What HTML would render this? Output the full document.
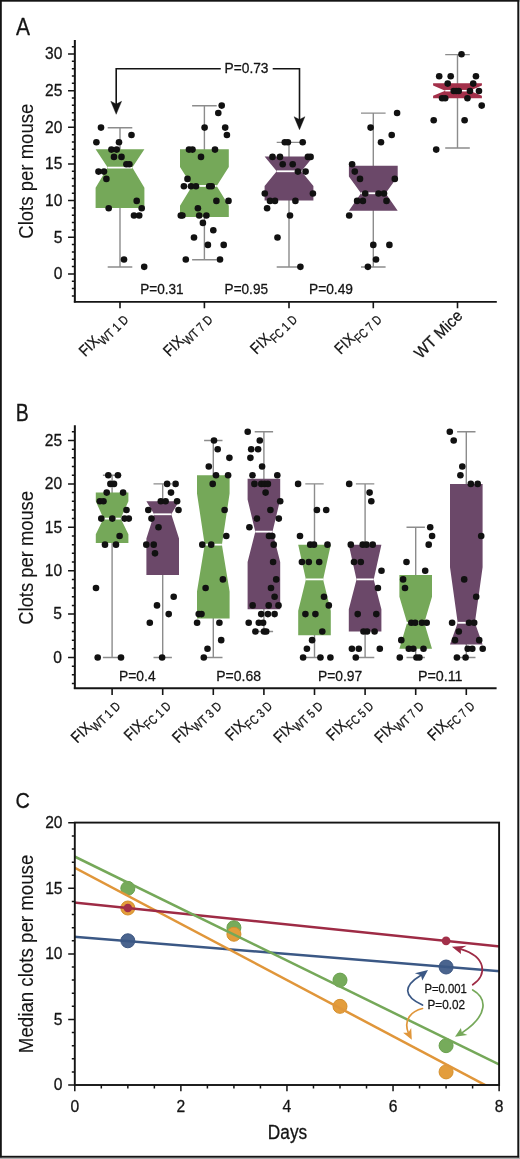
<!DOCTYPE html>
<html lang="en">
<head>
<meta charset="utf-8">
<title>Figure</title>
<style>html,body{margin:0;padding:0;background:#fff}svg{display:block}text{stroke:#141414;stroke-width:0.28px;stroke-linejoin:round}text[stroke-width]{stroke-width:0.12px}</style>
</head>
<body>
<svg width="520" height="1159" viewBox="0 0 520 1159" font-family="'Liberation Sans', Arial, sans-serif" fill="#141414" stroke="#141414" stroke-width="0">
<rect x="0" y="0" width="520" height="1159" fill="#fff"/>
<text x="16" y="34.6" font-size="23.5" text-anchor="start" textLength="14" lengthAdjust="spacingAndGlyphs">A</text>
<text x="15.8" y="420.6" font-size="24.5" text-anchor="start" textLength="13" lengthAdjust="spacingAndGlyphs">B</text>
<text x="15.5" y="808" font-size="22.4" text-anchor="start" textLength="14.4" lengthAdjust="spacingAndGlyphs">C</text>
<g stroke="#141414" stroke-width="2" fill="none">
<path d="M74.85 39.9V302.6"/>
</g>
<g stroke="#141414" stroke-width="1.5" fill="none">
<path d="M68.05 273.9H74.85M68.05 237.25H74.85M68.05 200.6H74.85M68.05 163.95H74.85M68.05 127.3H74.85M68.05 90.65H74.85M68.05 54H74.85M71.85 295.89H74.85M71.85 288.56H74.85M71.85 281.23H74.85M71.85 266.57H74.85M71.85 259.24H74.85M71.85 251.91H74.85M71.85 244.58H74.85M71.85 229.92H74.85M71.85 222.59H74.85M71.85 215.26H74.85M71.85 207.93H74.85M71.85 193.27H74.85M71.85 185.94H74.85M71.85 178.61H74.85M71.85 171.28H74.85M71.85 156.62H74.85M71.85 149.29H74.85M71.85 141.96H74.85M71.85 134.63H74.85M71.85 119.97H74.85M71.85 112.64H74.85M71.85 105.31H74.85M71.85 97.98H74.85M71.85 83.32H74.85M71.85 75.99H74.85M71.85 68.66H74.85M71.85 61.33H74.85M71.85 46.67H74.85"/>
</g>
<text x="62.4" y="279.15" font-size="16" text-anchor="end" textLength="8.7" lengthAdjust="spacingAndGlyphs">0</text>
<text x="62.4" y="242.5" font-size="16" text-anchor="end" textLength="8.7" lengthAdjust="spacingAndGlyphs">5</text>
<text x="62.4" y="205.85" font-size="16" text-anchor="end" textLength="17.3" lengthAdjust="spacingAndGlyphs">10</text>
<text x="62.4" y="169.2" font-size="16" text-anchor="end" textLength="17.3" lengthAdjust="spacingAndGlyphs">15</text>
<text x="62.4" y="132.55" font-size="16" text-anchor="end" textLength="17.3" lengthAdjust="spacingAndGlyphs">20</text>
<text x="62.4" y="95.9" font-size="16" text-anchor="end" textLength="17.3" lengthAdjust="spacingAndGlyphs">25</text>
<text x="62.4" y="59.25" font-size="16" text-anchor="end" textLength="17.3" lengthAdjust="spacingAndGlyphs">30</text>
<path d="M73.85 301.9H496.8" stroke="#141414" stroke-width="1.9" fill="none"/>
<path d="M120 301.9V308.3M204.4 301.9V308.3M289 301.9V308.3M373.3 301.9V308.3M457.5 301.9V308.3" stroke="#141414" stroke-width="1.6" fill="none"/>
<text transform="translate(32.9 171.2) rotate(-90)" text-anchor="middle" font-size="19.6" stroke-width="0.12" textLength="135" lengthAdjust="spacingAndGlyphs">Clots per mouse</text>
<g stroke="#8c8c8c" stroke-width="1.4" fill="none">
<path d="M120 127.75V267.02M107.7 127.75H132.3M107.7 267.02H132.3"/>
</g>
<polygon fill="#75a859" points="95.6,149.29 144.4,149.29 144.4,149.29 132.3,167.61 144.4,187.77 144.4,207.93 95.6,207.93 95.6,187.77 107.7,167.61 95.6,149.29"/>
<line x1="107.7" y1="167.61" x2="132.3" y2="167.61" stroke="#fff" stroke-width="1.8"/>
<g stroke="#8c8c8c" stroke-width="1.4" fill="none">
<path d="M204.4 105.76V259.69M192.1 105.76H216.7M192.1 259.69H216.7"/>
</g>
<polygon fill="#75a859" points="180,149.29 228.8,149.29 228.8,166.88 216.7,185.94 228.8,205.73 228.8,217.09 180,217.09 180,205.73 192.1,185.94 180,166.88"/>
<line x1="192.1" y1="185.94" x2="216.7" y2="185.94" stroke="#fff" stroke-width="1.8"/>
<g stroke="#8c8c8c" stroke-width="1.4" fill="none">
<path d="M289 142.41V267.02M276.7 142.41H301.3M276.7 267.02H301.3"/>
</g>
<polygon fill="#6b4869" points="264.6,156.62 313.4,156.62 313.4,156.62 301.3,171.28 313.4,185.94 313.4,200.6 264.6,200.6 264.6,185.94 276.7,171.28 264.6,156.62"/>
<line x1="276.7" y1="171.28" x2="301.3" y2="171.28" stroke="#fff" stroke-width="1.8"/>
<g stroke="#8c8c8c" stroke-width="1.4" fill="none">
<path d="M373.3 113.09V267.02M361 113.09H385.6M361 267.02H385.6"/>
</g>
<polygon fill="#6b4869" points="348.9,165.78 397.7,165.78 397.7,176.41 385.6,193.27 397.7,210.86 397.7,210.86 348.9,210.86 348.9,210.86 361,193.27 348.9,176.41"/>
<line x1="361" y1="193.27" x2="385.6" y2="193.27" stroke="#fff" stroke-width="1.8"/>
<path d="M457.5 54.6V148.06M445.2 54.6H469.8M445.2 148.06H469.8" stroke="#8c8c8c" stroke-width="1.4" fill="none"/>
<polygon fill="#a3304a" points="433.1,83.2 481.9,83.2 481.9,85.6 469.8,90.7 481.9,95.7 481.9,98.2 433.1,98.2 433.1,95.7 445.2,90.7 433.1,85.6"/>
<line x1="445.2" y1="90.7" x2="469.8" y2="90.7" stroke="#fff" stroke-width="1.5"/>
<g fill="#111111">
<circle cx="101" cy="127.6" r="3.3"/>
<circle cx="131.5" cy="134.93" r="3.3"/>
<circle cx="96.4" cy="142.26" r="3.3"/>
<circle cx="119" cy="142.26" r="3.3"/>
<circle cx="111.4" cy="149.59" r="3.3"/>
<circle cx="116.7" cy="149.59" r="3.3"/>
<circle cx="114" cy="156.92" r="3.3"/>
<circle cx="121.5" cy="156.92" r="3.3"/>
<circle cx="126.4" cy="164.25" r="3.3"/>
<circle cx="129.4" cy="164.25" r="3.3"/>
<circle cx="98.5" cy="171.58" r="3.3"/>
<circle cx="104" cy="171.58" r="3.3"/>
<circle cx="106.4" cy="178.91" r="3.3"/>
<circle cx="136.7" cy="200.9" r="3.3"/>
<circle cx="108.7" cy="208.23" r="3.3"/>
<circle cx="141.7" cy="208.23" r="3.3"/>
<circle cx="134" cy="215.56" r="3.3"/>
<circle cx="139.2" cy="215.56" r="3.3"/>
<circle cx="124" cy="259.54" r="3.3"/>
<circle cx="144.2" cy="266.87" r="3.3"/>
<circle cx="221.7" cy="105.61" r="3.3"/>
<circle cx="218.3" cy="112.94" r="3.3"/>
<circle cx="204.6" cy="127.6" r="3.3"/>
<circle cx="225.2" cy="127.6" r="3.3"/>
<circle cx="226.9" cy="134.93" r="3.3"/>
<circle cx="189" cy="149.59" r="3.3"/>
<circle cx="192.5" cy="149.59" r="3.3"/>
<circle cx="215" cy="149.59" r="3.3"/>
<circle cx="201" cy="156.92" r="3.3"/>
<circle cx="187.5" cy="178.91" r="3.3"/>
<circle cx="183.9" cy="186.24" r="3.3"/>
<circle cx="191" cy="186.24" r="3.3"/>
<circle cx="196" cy="186.24" r="3.3"/>
<circle cx="209.2" cy="186.24" r="3.3"/>
<circle cx="211.7" cy="186.24" r="3.3"/>
<circle cx="216.4" cy="200.9" r="3.3"/>
<circle cx="228.5" cy="200.9" r="3.3"/>
<circle cx="197.9" cy="208.23" r="3.3"/>
<circle cx="180.8" cy="215.56" r="3.3"/>
<circle cx="182.4" cy="215.56" r="3.3"/>
<circle cx="199.2" cy="215.56" r="3.3"/>
<circle cx="206.4" cy="215.56" r="3.3"/>
<circle cx="202.9" cy="222.89" r="3.3"/>
<circle cx="213.3" cy="230.22" r="3.3"/>
<circle cx="194" cy="237.55" r="3.3"/>
<circle cx="207.9" cy="244.88" r="3.3"/>
<circle cx="223.7" cy="244.88" r="3.3"/>
<circle cx="185.8" cy="259.54" r="3.3"/>
<circle cx="220" cy="259.54" r="3.3"/>
<circle cx="284.8" cy="142.26" r="3.3"/>
<circle cx="287.9" cy="142.26" r="3.3"/>
<circle cx="302.7" cy="142.26" r="3.3"/>
<circle cx="272.5" cy="156.92" r="3.3"/>
<circle cx="280" cy="156.92" r="3.3"/>
<circle cx="307.9" cy="156.92" r="3.3"/>
<circle cx="310.6" cy="156.92" r="3.3"/>
<circle cx="282.7" cy="164.25" r="3.3"/>
<circle cx="292.7" cy="164.25" r="3.3"/>
<circle cx="297.9" cy="171.58" r="3.3"/>
<circle cx="305.6" cy="171.58" r="3.3"/>
<circle cx="264.8" cy="193.57" r="3.3"/>
<circle cx="312.9" cy="193.57" r="3.3"/>
<circle cx="270" cy="200.9" r="3.3"/>
<circle cx="275" cy="200.9" r="3.3"/>
<circle cx="295.4" cy="200.9" r="3.3"/>
<circle cx="267.1" cy="208.23" r="3.3"/>
<circle cx="290" cy="215.56" r="3.3"/>
<circle cx="277.5" cy="237.55" r="3.3"/>
<circle cx="300.4" cy="266.87" r="3.3"/>
<circle cx="397.1" cy="112.94" r="3.3"/>
<circle cx="370.6" cy="127.6" r="3.3"/>
<circle cx="391.7" cy="134.93" r="3.3"/>
<circle cx="381" cy="142.26" r="3.3"/>
<circle cx="352.1" cy="164.25" r="3.3"/>
<circle cx="354.8" cy="171.58" r="3.3"/>
<circle cx="360" cy="178.91" r="3.3"/>
<circle cx="394.8" cy="178.91" r="3.3"/>
<circle cx="365.2" cy="193.57" r="3.3"/>
<circle cx="378.5" cy="193.57" r="3.3"/>
<circle cx="384" cy="193.57" r="3.3"/>
<circle cx="357.1" cy="200.9" r="3.3"/>
<circle cx="362.9" cy="200.9" r="3.3"/>
<circle cx="386.5" cy="200.9" r="3.3"/>
<circle cx="349.2" cy="215.56" r="3.3"/>
<circle cx="373.3" cy="244.88" r="3.3"/>
<circle cx="389.4" cy="244.88" r="3.3"/>
<circle cx="376" cy="259.54" r="3.3"/>
<circle cx="367.9" cy="266.87" r="3.3"/>
<circle cx="461.5" cy="54.3" r="3.3"/>
<circle cx="439.2" cy="76.29" r="3.3"/>
<circle cx="450.7" cy="76.29" r="3.3"/>
<circle cx="475.95" cy="76.29" r="3.3"/>
<circle cx="447.7" cy="83.62" r="3.3"/>
<circle cx="473.2" cy="83.62" r="3.3"/>
<circle cx="453.7" cy="90.95" r="3.3"/>
<circle cx="456.2" cy="90.95" r="3.3"/>
<circle cx="458.7" cy="90.95" r="3.3"/>
<circle cx="469.95" cy="90.95" r="3.3"/>
<circle cx="478.95" cy="90.95" r="3.3"/>
<circle cx="442.1" cy="98.28" r="3.3"/>
<circle cx="445.2" cy="98.28" r="3.3"/>
<circle cx="467.45" cy="98.28" r="3.3"/>
<circle cx="481.7" cy="105.61" r="3.3"/>
<circle cx="433.7" cy="120.27" r="3.3"/>
<circle cx="464.6" cy="120.27" r="3.3"/>
<circle cx="436.2" cy="149.59" r="3.3"/>
</g>
<text x="140.2" y="293.85" font-size="14.2" text-anchor="start" textLength="43.4" lengthAdjust="spacingAndGlyphs">P=0.31</text>
<text x="224.6" y="293.85" font-size="14.2" text-anchor="start" textLength="43.4" lengthAdjust="spacingAndGlyphs">P=0.95</text>
<text x="309" y="293.85" font-size="14.2" text-anchor="start" textLength="44" lengthAdjust="spacingAndGlyphs">P=0.49</text>
<text x="224.6" y="73.2" font-size="14.2" text-anchor="start" textLength="43.9" lengthAdjust="spacingAndGlyphs">P=0.73</text>
<g stroke="#141414" stroke-width="1.6" fill="none">
<path d="M220.8 68.8H116.2V105"/>
<path d="M272.7 68.8H299.5V120"/>
</g>
<path d="M116.2 114.3L110.8 101.3L116.2 104.1L121.6 101.3Z" fill="#141414" stroke="#141414" stroke-width="0.4" stroke-linejoin="round"/>
<path d="M299.5 129.7L294.1 116.7L299.5 119.5L304.9 116.7Z" fill="#141414" stroke="#141414" stroke-width="0.4" stroke-linejoin="round"/>
<text transform="translate(85.14 357.36) rotate(-45)" font-size="15.6"><tspan x="0" y="0" textLength="21.5" lengthAdjust="spacingAndGlyphs">FIX</tspan><tspan x="21.4" y="5.0" font-size="12.7" textLength="35.7" lengthAdjust="spacingAndGlyphs">WT 1 D</tspan></text>
<text transform="translate(169.54 357.36) rotate(-45)" font-size="15.6"><tspan x="0" y="0" textLength="21.5" lengthAdjust="spacingAndGlyphs">FIX</tspan><tspan x="21.4" y="5.0" font-size="12.7" textLength="35.7" lengthAdjust="spacingAndGlyphs">WT 7 D</tspan></text>
<text transform="translate(256.48 355.02) rotate(-45)" font-size="15.6"><tspan x="0" y="0" textLength="21.5" lengthAdjust="spacingAndGlyphs">FIX</tspan><tspan x="21.4" y="5.0" font-size="12.7" textLength="32.4" lengthAdjust="spacingAndGlyphs">FC 1 D</tspan></text>
<text transform="translate(340.78 355.02) rotate(-45)" font-size="15.6"><tspan x="0" y="0" textLength="21.5" lengthAdjust="spacingAndGlyphs">FIX</tspan><tspan x="21.4" y="5.0" font-size="12.7" textLength="32.4" lengthAdjust="spacingAndGlyphs">FC 7 D</tspan></text>
<text transform="translate(463.6 316.8) rotate(-45)" text-anchor="end" font-size="16.2" textLength="60.5" lengthAdjust="spacingAndGlyphs">WT Mice</text>
<g stroke="#141414" stroke-width="2" fill="none">
<path d="M74.85 425.2V689.1"/>
</g>
<g stroke="#141414" stroke-width="1.5" fill="none">
<path d="M68.05 657.5H74.85M68.05 614.1H74.85M68.05 570.7H74.85M68.05 527.3H74.85M68.05 483.9H74.85M68.05 440.5H74.85M71.85 683.54H74.85M71.85 674.86H74.85M71.85 666.18H74.85M71.85 648.82H74.85M71.85 640.14H74.85M71.85 631.46H74.85M71.85 622.78H74.85M71.85 605.42H74.85M71.85 596.74H74.85M71.85 588.06H74.85M71.85 579.38H74.85M71.85 562.02H74.85M71.85 553.34H74.85M71.85 544.66H74.85M71.85 535.98H74.85M71.85 518.62H74.85M71.85 509.94H74.85M71.85 501.26H74.85M71.85 492.58H74.85M71.85 475.22H74.85M71.85 466.54H74.85M71.85 457.86H74.85M71.85 449.18H74.85M71.85 431.82H74.85"/>
</g>
<text x="62.05" y="662.75" font-size="16" text-anchor="end" textLength="8.7" lengthAdjust="spacingAndGlyphs">0</text>
<text x="62.05" y="619.35" font-size="16" text-anchor="end" textLength="8.7" lengthAdjust="spacingAndGlyphs">5</text>
<text x="62.05" y="575.95" font-size="16" text-anchor="end" textLength="17.3" lengthAdjust="spacingAndGlyphs">10</text>
<text x="62.05" y="532.55" font-size="16" text-anchor="end" textLength="17.3" lengthAdjust="spacingAndGlyphs">15</text>
<text x="62.05" y="489.15" font-size="16" text-anchor="end" textLength="17.3" lengthAdjust="spacingAndGlyphs">20</text>
<text x="62.05" y="445.75" font-size="16" text-anchor="end" textLength="17.3" lengthAdjust="spacingAndGlyphs">25</text>
<path d="M73.85 688.25H496.6" stroke="#141414" stroke-width="1.9" fill="none"/>
<path d="M112.1 688.2V694.9M162.7 688.2V694.9M213.3 688.2V694.9M263.9 688.2V694.9M314.5 688.2V694.9M365.1 688.2V694.9M415.7 688.2V694.9M466.3 688.2V694.9" stroke="#141414" stroke-width="1.6" fill="none"/>
<text transform="translate(32.9 557.85) rotate(-90)" text-anchor="middle" font-size="19.6" stroke-width="0.12" textLength="133.7" lengthAdjust="spacingAndGlyphs">Clots per mouse</text>
<g stroke="#8c8c8c" stroke-width="1.4" fill="none">
<path d="M112.1 475.22V657.5M102.9 475.22H121.3M102.9 657.5H121.3"/>
</g>
<polygon fill="#75a859" points="95.8,492.58 128.4,492.58 128.4,501.26 120.7,518.62 128.4,534.24 128.4,542.92 95.8,542.92 95.8,534.24 103.5,518.62 95.8,501.26"/>
<line x1="103.5" y1="518.62" x2="120.7" y2="518.62" stroke="#fff" stroke-width="1.8"/>
<g stroke="#8c8c8c" stroke-width="1.4" fill="none">
<path d="M162.7 483.9V657.5M153.5 483.9H171.9M153.5 657.5H171.9"/>
</g>
<polygon fill="#6b4869" points="146.4,501.26 179,501.26 179,501.26 171.3,514.28 179,538.58 179,575.04 146.4,575.04 146.4,538.58 154.1,514.28 146.4,501.26"/>
<line x1="154.1" y1="514.28" x2="171.3" y2="514.28" stroke="#fff" stroke-width="1.8"/>
<g stroke="#8c8c8c" stroke-width="1.4" fill="none">
<path d="M213.3 440.5V657.5M204.1 440.5H222.5M204.1 657.5H222.5"/>
</g>
<polygon fill="#75a859" points="197,475.22 229.6,475.22 229.6,493.45 221.9,544.66 229.6,591.53 229.6,618.44 197,618.44 197,591.53 204.7,544.66 197,493.45"/>
<line x1="204.7" y1="544.66" x2="221.9" y2="544.66" stroke="#fff" stroke-width="1.8"/>
<g stroke="#8c8c8c" stroke-width="1.4" fill="none">
<path d="M263.9 431.82V631.46M254.7 431.82H273.1M254.7 631.46H273.1"/>
</g>
<polygon fill="#6b4869" points="247.6,478.69 280.2,478.69 280.2,499.52 272.5,531.64 280.2,562.02 280.2,609.33 247.6,609.33 247.6,562.02 255.3,531.64 247.6,499.52"/>
<line x1="255.3" y1="531.64" x2="272.5" y2="531.64" stroke="#fff" stroke-width="1.8"/>
<g stroke="#8c8c8c" stroke-width="1.4" fill="none">
<path d="M314.5 483.9V657.5M305.3 483.9H323.7M305.3 657.5H323.7"/>
</g>
<polygon fill="#75a859" points="298.2,544.66 330.8,544.66 330.8,544.66 323.1,579.38 330.8,610.63 330.8,635.37 298.2,635.37 298.2,610.63 305.9,579.38 298.2,544.66"/>
<line x1="305.9" y1="579.38" x2="323.1" y2="579.38" stroke="#fff" stroke-width="1.8"/>
<g stroke="#8c8c8c" stroke-width="1.4" fill="none">
<path d="M365.1 483.9V657.5M355.9 483.9H374.3M355.9 657.5H374.3"/>
</g>
<polygon fill="#6b4869" points="348.8,544.66 381.4,544.66 381.4,544.66 373.7,579.38 381.4,609.33 381.4,631.46 348.8,631.46 348.8,609.33 356.5,579.38 348.8,544.66"/>
<line x1="356.5" y1="579.38" x2="373.7" y2="579.38" stroke="#fff" stroke-width="1.8"/>
<g stroke="#8c8c8c" stroke-width="1.4" fill="none">
<path d="M415.7 527.3V657.5M406.5 527.3H424.9M406.5 657.5H424.9"/>
</g>
<polygon fill="#75a859" points="399.4,575.04 432,575.04 432,596.74 424.3,622.78 432,648.82 432,648.82 399.4,648.82 399.4,648.82 407.1,622.78 399.4,596.74"/>
<line x1="407.1" y1="622.78" x2="424.3" y2="622.78" stroke="#fff" stroke-width="1.8"/>
<g stroke="#8c8c8c" stroke-width="1.4" fill="none">
<path d="M466.3 431.82V657.5M457.1 431.82H475.5M457.1 657.5H475.5"/>
</g>
<polygon fill="#6b4869" points="450,483.9 482.6,483.9 482.6,567.23 474.9,622.78 482.6,644.48 482.6,644.48 450,644.48 450,644.48 457.7,622.78 450,567.23"/>
<line x1="457.7" y1="622.78" x2="474.9" y2="622.78" stroke="#fff" stroke-width="1.8"/>
<g fill="#111111">
<circle cx="108.3" cy="475.22" r="3.3"/>
<circle cx="117.9" cy="475.22" r="3.3"/>
<circle cx="110.4" cy="483.9" r="3.3"/>
<circle cx="114" cy="483.9" r="3.3"/>
<circle cx="106.7" cy="492.58" r="3.3"/>
<circle cx="123.1" cy="492.58" r="3.3"/>
<circle cx="99.8" cy="501.26" r="3.3"/>
<circle cx="103.5" cy="501.26" r="3.3"/>
<circle cx="126.5" cy="509.94" r="3.3"/>
<circle cx="101.3" cy="518.62" r="3.3"/>
<circle cx="112.3" cy="518.62" r="3.3"/>
<circle cx="124.6" cy="518.62" r="3.3"/>
<circle cx="128.8" cy="518.62" r="3.3"/>
<circle cx="119.6" cy="535.98" r="3.3"/>
<circle cx="105" cy="544.66" r="3.3"/>
<circle cx="116" cy="544.66" r="3.3"/>
<circle cx="96" cy="588.06" r="3.3"/>
<circle cx="97.7" cy="657.5" r="3.3"/>
<circle cx="121" cy="657.5" r="3.3"/>
<circle cx="167.1" cy="483.9" r="3.3"/>
<circle cx="175.6" cy="483.9" r="3.3"/>
<circle cx="171" cy="492.58" r="3.3"/>
<circle cx="160.8" cy="501.26" r="3.3"/>
<circle cx="165.6" cy="501.26" r="3.3"/>
<circle cx="177.1" cy="501.26" r="3.3"/>
<circle cx="148.3" cy="509.94" r="3.3"/>
<circle cx="178.5" cy="509.94" r="3.3"/>
<circle cx="151.5" cy="518.62" r="3.3"/>
<circle cx="158.5" cy="527.3" r="3.3"/>
<circle cx="146.3" cy="544.66" r="3.3"/>
<circle cx="153.7" cy="544.66" r="3.3"/>
<circle cx="155" cy="553.34" r="3.3"/>
<circle cx="173.7" cy="596.74" r="3.3"/>
<circle cx="157" cy="605.42" r="3.3"/>
<circle cx="168.7" cy="614.1" r="3.3"/>
<circle cx="149.8" cy="622.78" r="3.3"/>
<circle cx="162.1" cy="657.5" r="3.3"/>
<circle cx="214" cy="440.5" r="3.3"/>
<circle cx="217.7" cy="449.18" r="3.3"/>
<circle cx="229.4" cy="457.86" r="3.3"/>
<circle cx="208.8" cy="466.54" r="3.3"/>
<circle cx="216" cy="475.22" r="3.3"/>
<circle cx="228.1" cy="475.22" r="3.3"/>
<circle cx="212.7" cy="483.9" r="3.3"/>
<circle cx="224.6" cy="509.94" r="3.3"/>
<circle cx="226.3" cy="535.98" r="3.3"/>
<circle cx="202.3" cy="544.66" r="3.3"/>
<circle cx="211.2" cy="544.66" r="3.3"/>
<circle cx="222.9" cy="579.38" r="3.3"/>
<circle cx="205.6" cy="588.06" r="3.3"/>
<circle cx="198.7" cy="614.1" r="3.3"/>
<circle cx="201.5" cy="614.1" r="3.3"/>
<circle cx="197.1" cy="622.78" r="3.3"/>
<circle cx="219.4" cy="622.78" r="3.3"/>
<circle cx="221.2" cy="640.14" r="3.3"/>
<circle cx="207.5" cy="648.82" r="3.3"/>
<circle cx="203.8" cy="657.5" r="3.3"/>
<circle cx="247.7" cy="431.82" r="3.3"/>
<circle cx="259.8" cy="440.5" r="3.3"/>
<circle cx="251.2" cy="449.18" r="3.3"/>
<circle cx="258.1" cy="449.18" r="3.3"/>
<circle cx="250.4" cy="457.86" r="3.3"/>
<circle cx="262.1" cy="466.54" r="3.3"/>
<circle cx="252.5" cy="475.22" r="3.3"/>
<circle cx="277.3" cy="475.22" r="3.3"/>
<circle cx="254.4" cy="483.9" r="3.3"/>
<circle cx="261.3" cy="483.9" r="3.3"/>
<circle cx="264.6" cy="483.9" r="3.3"/>
<circle cx="267.9" cy="483.9" r="3.3"/>
<circle cx="265.6" cy="492.58" r="3.3"/>
<circle cx="280.2" cy="501.26" r="3.3"/>
<circle cx="270.4" cy="509.94" r="3.3"/>
<circle cx="256.9" cy="518.62" r="3.3"/>
<circle cx="278.8" cy="518.62" r="3.3"/>
<circle cx="249.4" cy="527.3" r="3.3"/>
<circle cx="269" cy="535.98" r="3.3"/>
<circle cx="272.3" cy="535.98" r="3.3"/>
<circle cx="273.7" cy="544.66" r="3.3"/>
<circle cx="273.1" cy="562.02" r="3.3"/>
<circle cx="276.2" cy="579.38" r="3.3"/>
<circle cx="271" cy="588.06" r="3.3"/>
<circle cx="274.6" cy="596.74" r="3.3"/>
<circle cx="252.7" cy="605.42" r="3.3"/>
<circle cx="268.7" cy="605.42" r="3.3"/>
<circle cx="278.5" cy="605.42" r="3.3"/>
<circle cx="261.2" cy="614.1" r="3.3"/>
<circle cx="267.9" cy="614.1" r="3.3"/>
<circle cx="274.6" cy="614.1" r="3.3"/>
<circle cx="248.7" cy="622.78" r="3.3"/>
<circle cx="258.8" cy="622.78" r="3.3"/>
<circle cx="263.1" cy="622.78" r="3.3"/>
<circle cx="255.4" cy="631.46" r="3.3"/>
<circle cx="264" cy="631.46" r="3.3"/>
<circle cx="266.2" cy="631.46" r="3.3"/>
<circle cx="298.1" cy="483.9" r="3.3"/>
<circle cx="316.9" cy="509.94" r="3.3"/>
<circle cx="326.2" cy="509.94" r="3.3"/>
<circle cx="300" cy="535.98" r="3.3"/>
<circle cx="310.2" cy="544.66" r="3.3"/>
<circle cx="314" cy="544.66" r="3.3"/>
<circle cx="327.5" cy="544.66" r="3.3"/>
<circle cx="301.9" cy="562.02" r="3.3"/>
<circle cx="308.8" cy="562.02" r="3.3"/>
<circle cx="319.2" cy="562.02" r="3.3"/>
<circle cx="324" cy="596.74" r="3.3"/>
<circle cx="328.8" cy="605.42" r="3.3"/>
<circle cx="305.4" cy="614.1" r="3.3"/>
<circle cx="315.4" cy="614.1" r="3.3"/>
<circle cx="322.3" cy="631.46" r="3.3"/>
<circle cx="312.1" cy="640.14" r="3.3"/>
<circle cx="306.9" cy="648.82" r="3.3"/>
<circle cx="303.1" cy="657.5" r="3.3"/>
<circle cx="320.4" cy="657.5" r="3.3"/>
<circle cx="330.4" cy="657.5" r="3.3"/>
<circle cx="349.2" cy="483.9" r="3.3"/>
<circle cx="369.6" cy="492.58" r="3.3"/>
<circle cx="371.3" cy="501.26" r="3.3"/>
<circle cx="350.8" cy="544.66" r="3.3"/>
<circle cx="362.7" cy="544.66" r="3.3"/>
<circle cx="366.5" cy="544.66" r="3.3"/>
<circle cx="372.7" cy="544.66" r="3.3"/>
<circle cx="354" cy="562.02" r="3.3"/>
<circle cx="360.8" cy="562.02" r="3.3"/>
<circle cx="381.5" cy="570.7" r="3.3"/>
<circle cx="377.9" cy="588.06" r="3.3"/>
<circle cx="357.7" cy="614.1" r="3.3"/>
<circle cx="376.3" cy="614.1" r="3.3"/>
<circle cx="363.5" cy="631.46" r="3.3"/>
<circle cx="367.1" cy="631.46" r="3.3"/>
<circle cx="374.6" cy="631.46" r="3.3"/>
<circle cx="351.9" cy="648.82" r="3.3"/>
<circle cx="358.8" cy="648.82" r="3.3"/>
<circle cx="379.8" cy="648.82" r="3.3"/>
<circle cx="355.8" cy="657.5" r="3.3"/>
<circle cx="430.2" cy="527.3" r="3.3"/>
<circle cx="432.1" cy="535.98" r="3.3"/>
<circle cx="428.7" cy="544.66" r="3.3"/>
<circle cx="406.5" cy="562.02" r="3.3"/>
<circle cx="425.2" cy="570.7" r="3.3"/>
<circle cx="403.1" cy="579.38" r="3.3"/>
<circle cx="405" cy="588.06" r="3.3"/>
<circle cx="411.3" cy="622.78" r="3.3"/>
<circle cx="415.2" cy="622.78" r="3.3"/>
<circle cx="421.9" cy="622.78" r="3.3"/>
<circle cx="426.7" cy="622.78" r="3.3"/>
<circle cx="401.3" cy="640.14" r="3.3"/>
<circle cx="408.8" cy="648.82" r="3.3"/>
<circle cx="413.3" cy="648.82" r="3.3"/>
<circle cx="423.5" cy="648.82" r="3.3"/>
<circle cx="399.8" cy="657.5" r="3.3"/>
<circle cx="416.5" cy="657.5" r="3.3"/>
<circle cx="419.4" cy="657.5" r="3.3"/>
<circle cx="449.8" cy="431.82" r="3.3"/>
<circle cx="453.7" cy="440.5" r="3.3"/>
<circle cx="462.3" cy="466.54" r="3.3"/>
<circle cx="460.4" cy="475.22" r="3.3"/>
<circle cx="470.8" cy="483.9" r="3.3"/>
<circle cx="477.7" cy="483.9" r="3.3"/>
<circle cx="481.2" cy="535.98" r="3.3"/>
<circle cx="464.2" cy="579.38" r="3.3"/>
<circle cx="476.2" cy="596.74" r="3.3"/>
<circle cx="452.1" cy="622.78" r="3.3"/>
<circle cx="469" cy="622.78" r="3.3"/>
<circle cx="474.2" cy="622.78" r="3.3"/>
<circle cx="458.8" cy="631.46" r="3.3"/>
<circle cx="455" cy="640.14" r="3.3"/>
<circle cx="479.2" cy="640.14" r="3.3"/>
<circle cx="467.7" cy="648.82" r="3.3"/>
<circle cx="472.3" cy="648.82" r="3.3"/>
<circle cx="482.7" cy="648.82" r="3.3"/>
<circle cx="456.9" cy="657.5" r="3.3"/>
<circle cx="465.6" cy="657.5" r="3.3"/>
</g>
<text x="119" y="681.2" font-size="15" text-anchor="start" textLength="36.6" lengthAdjust="spacingAndGlyphs">P=0.4</text>
<text x="216.3" y="681.2" font-size="15" text-anchor="start" textLength="44.7" lengthAdjust="spacingAndGlyphs">P=0.68</text>
<text x="317.9" y="681.2" font-size="15" text-anchor="start" textLength="44.3" lengthAdjust="spacingAndGlyphs">P=0.97</text>
<text x="417.9" y="681.2" font-size="15" text-anchor="start" textLength="44.6" lengthAdjust="spacingAndGlyphs">P=0.11</text>
<text transform="translate(77.24 743.81) rotate(-45)" font-size="15.6"><tspan x="0" y="0" textLength="21.5" lengthAdjust="spacingAndGlyphs">FIX</tspan><tspan x="21.4" y="5.0" font-size="12.7" textLength="35.7" lengthAdjust="spacingAndGlyphs">WT 1 D</tspan></text>
<text transform="translate(130.18 741.47) rotate(-45)" font-size="15.6"><tspan x="0" y="0" textLength="21.5" lengthAdjust="spacingAndGlyphs">FIX</tspan><tspan x="21.4" y="5.0" font-size="12.7" textLength="32.4" lengthAdjust="spacingAndGlyphs">FC 1 D</tspan></text>
<text transform="translate(178.44 743.81) rotate(-45)" font-size="15.6"><tspan x="0" y="0" textLength="21.5" lengthAdjust="spacingAndGlyphs">FIX</tspan><tspan x="21.4" y="5.0" font-size="12.7" textLength="35.7" lengthAdjust="spacingAndGlyphs">WT 3 D</tspan></text>
<text transform="translate(231.38 741.47) rotate(-45)" font-size="15.6"><tspan x="0" y="0" textLength="21.5" lengthAdjust="spacingAndGlyphs">FIX</tspan><tspan x="21.4" y="5.0" font-size="12.7" textLength="32.4" lengthAdjust="spacingAndGlyphs">FC 3 D</tspan></text>
<text transform="translate(279.64 743.81) rotate(-45)" font-size="15.6"><tspan x="0" y="0" textLength="21.5" lengthAdjust="spacingAndGlyphs">FIX</tspan><tspan x="21.4" y="5.0" font-size="12.7" textLength="35.7" lengthAdjust="spacingAndGlyphs">WT 5 D</tspan></text>
<text transform="translate(332.58 741.47) rotate(-45)" font-size="15.6"><tspan x="0" y="0" textLength="21.5" lengthAdjust="spacingAndGlyphs">FIX</tspan><tspan x="21.4" y="5.0" font-size="12.7" textLength="32.4" lengthAdjust="spacingAndGlyphs">FC 5 D</tspan></text>
<text transform="translate(380.84 743.81) rotate(-45)" font-size="15.6"><tspan x="0" y="0" textLength="21.5" lengthAdjust="spacingAndGlyphs">FIX</tspan><tspan x="21.4" y="5.0" font-size="12.7" textLength="35.7" lengthAdjust="spacingAndGlyphs">WT 7 D</tspan></text>
<text transform="translate(433.78 741.47) rotate(-45)" font-size="15.6"><tspan x="0" y="0" textLength="21.5" lengthAdjust="spacingAndGlyphs">FIX</tspan><tspan x="21.4" y="5.0" font-size="12.7" textLength="32.4" lengthAdjust="spacingAndGlyphs">FC 7 D</tspan></text>
<clipPath id="cc"><rect x="74.8" y="822.6" width="424.3" height="262.4"/></clipPath>
<g clip-path="url(#cc)" fill="none" stroke-width="2.25">
</g>
<circle cx="127.84" cy="888.35" r="7.0" fill="#76ab5b" stroke="#68a04c" stroke-width="1"/>
<circle cx="233.92" cy="927.68" r="7.0" fill="#76ab5b" stroke="#68a04c" stroke-width="1"/>
<circle cx="340" cy="980.12" r="7.0" fill="#76ab5b" stroke="#68a04c" stroke-width="1"/>
<circle cx="446.08" cy="1045.67" r="7.0" fill="#76ab5b" stroke="#68a04c" stroke-width="1"/>
<circle cx="127.84" cy="908.01" r="7.0" fill="#e39d3c" stroke="#d48f2c" stroke-width="1"/>
<circle cx="233.92" cy="934.24" r="7.0" fill="#e39d3c" stroke="#d48f2c" stroke-width="1"/>
<circle cx="340" cy="1006.34" r="7.0" fill="#e39d3c" stroke="#d48f2c" stroke-width="1"/>
<circle cx="446.08" cy="1071.89" r="7.0" fill="#e39d3c" stroke="#d48f2c" stroke-width="1"/>
<circle cx="127.84" cy="940.79" r="7.0" fill="#4a648e" stroke="#3b5581" stroke-width="1"/>
<circle cx="446.08" cy="967.01" r="7.0" fill="#4a648e" stroke="#3b5581" stroke-width="1"/>
<g clip-path="url(#cc)" fill="none" stroke-width="2.5">
<line x1="64.19" y1="935.86" x2="509.73" y2="972.09" stroke="#3b5885"/>
<line x1="64.19" y1="862.15" x2="509.73" y2="1098.04" stroke="#e0963a"/>
<line x1="64.19" y1="901.41" x2="509.73" y2="947.39" stroke="#9e2b45"/>
<line x1="64.19" y1="851.43" x2="509.73" y2="1069.69" stroke="#75a859"/>
</g>
<circle cx="127.84" cy="908.01" r="4.3" fill="#a23049"/>
<circle cx="446.08" cy="940.79" r="4.4" fill="#a23049"/>
<rect x="74.8" y="822.6" width="424.3" height="262.4" fill="none" stroke="#141414" stroke-width="1.9"/>
<path d="M68.2 1085H74.8M71.8 1071.89H74.8M71.8 1058.78H74.8M71.8 1045.67H74.8M71.8 1032.56H74.8M68.2 1019.45H74.8M71.8 1006.34H74.8M71.8 993.23H74.8M71.8 980.12H74.8M71.8 967.01H74.8M68.2 953.9H74.8M71.8 940.79H74.8M71.8 927.68H74.8M71.8 914.57H74.8M71.8 901.46H74.8M68.2 888.35H74.8M71.8 875.24H74.8M71.8 862.13H74.8M71.8 849.02H74.8M71.8 835.91H74.8M68.2 822.8H74.8M74.8 1085V1091.3M101.32 1085V1088.4M127.84 1085V1088.4M154.36 1085V1088.4M180.88 1085V1091.3M207.4 1085V1088.4M233.92 1085V1088.4M260.44 1085V1088.4M286.96 1085V1091.3M313.48 1085V1088.4M340 1085V1088.4M366.52 1085V1088.4M393.04 1085V1091.3M419.56 1085V1088.4M446.08 1085V1088.4M472.6 1085V1088.4M499.12 1085V1091.3" stroke="#141414" stroke-width="1.5" fill="none"/>
<text x="62.5" y="1090.45" font-size="16" text-anchor="end" textLength="8.7" lengthAdjust="spacingAndGlyphs">0</text>
<text x="62.5" y="1024.9" font-size="16" text-anchor="end" textLength="8.7" lengthAdjust="spacingAndGlyphs">5</text>
<text x="62.5" y="959.35" font-size="16" text-anchor="end" textLength="17.3" lengthAdjust="spacingAndGlyphs">10</text>
<text x="62.5" y="893.8" font-size="16" text-anchor="end" textLength="17.3" lengthAdjust="spacingAndGlyphs">15</text>
<text x="62.5" y="828.25" font-size="16" text-anchor="end" textLength="17.3" lengthAdjust="spacingAndGlyphs">20</text>
<text x="74.8" y="1111.9" font-size="16" text-anchor="middle" textLength="8.7" lengthAdjust="spacingAndGlyphs">0</text>
<text x="180.88" y="1111.9" font-size="16" text-anchor="middle" textLength="8.7" lengthAdjust="spacingAndGlyphs">2</text>
<text x="286.96" y="1111.9" font-size="16" text-anchor="middle" textLength="8.7" lengthAdjust="spacingAndGlyphs">4</text>
<text x="393.04" y="1111.9" font-size="16" text-anchor="middle" textLength="8.7" lengthAdjust="spacingAndGlyphs">6</text>
<text x="499.12" y="1111.9" font-size="16" text-anchor="middle" textLength="8.7" lengthAdjust="spacingAndGlyphs">8</text>
<text x="287.5" y="1138.8" font-size="19.4" text-anchor="middle" textLength="39.3" lengthAdjust="spacingAndGlyphs">Days</text>
<text transform="translate(32.9 953.9) rotate(-90)" text-anchor="middle" font-size="19.6" stroke-width="0.12" textLength="198.5" lengthAdjust="spacingAndGlyphs">Median clots per mouse</text>
<text x="424.4" y="993" font-size="13.2" text-anchor="start" textLength="42.5" lengthAdjust="spacingAndGlyphs">P=0.001</text>
<text x="427.5" y="1008.8" font-size="13.2" text-anchor="start" textLength="37.5" lengthAdjust="spacingAndGlyphs">P=0.02</text>
<path d="M472.7 984.8C487 975 487 957 460.79 949.09" fill="none" stroke="#9e2b45" stroke-width="1.7" stroke-linecap="round"/>
<path d="M451.9 946.8L466.6 945.7L460.79 949.09L460.9 954Z" fill="#9e2b45"/>
<path d="M422.5 1005.1C403 996 403 986 420.95 975.16" fill="none" stroke="#3b5885" stroke-width="1.7" stroke-linecap="round"/>
<path d="M428 970.1L414.9 973.2L420.95 975.16L422.3 980.5Z" fill="#3b5885"/>
<path d="M472.7 990C487 998 489 1015 461.9 1032.84" fill="none" stroke="#75a859" stroke-width="1.7" stroke-linecap="round"/>
<path d="M455 1036.7L460.9 1028.1L461.9 1032.84L467.5 1035Z" fill="#75a859"/>
<path d="M422.5 1008.5C412 1011 403 1019 408.31 1032.76" fill="none" stroke="#e0963a" stroke-width="1.7" stroke-linecap="round"/>
<path d="M411.8 1039.7L403.1 1032.8L408.31 1032.76L411.2 1028.1Z" fill="#e0963a"/>
<g fill="#141414" stroke="none"><rect x="0" y="0" width="520" height="1.7"/><rect x="0" y="0" width="1.8" height="1157.6"/><rect x="517.3" y="0" width="2" height="1157.6"/><rect x="0" y="1155.8" width="519.3" height="2"/></g>
<g fill="#b0b0b0" stroke="none"><rect x="519.3" y="0" width="0.7" height="1159"/><rect x="0" y="1157.8" width="520" height="1.2"/></g>
</svg>
</body>
</html>
